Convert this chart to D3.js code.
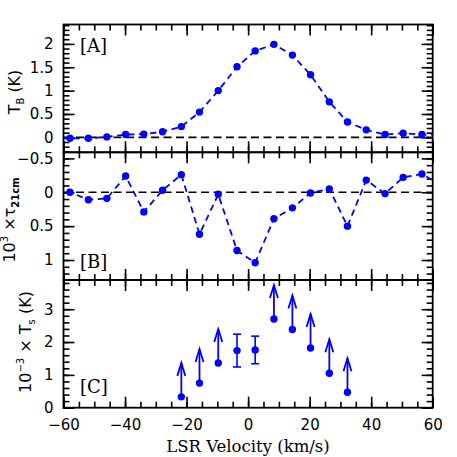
<!DOCTYPE html>
<html>
<head>
<meta charset="utf-8">
<script src="https://cdn.jsdelivr.net/npm/d3@7"></script>
<style>
  body { margin: 0; background: #fff; }
  svg { display: block; }
  .tick text { font-family: "DejaVu Sans", sans-serif; font-size: 15px; fill: #000; }
  .axis path { display: none; }
  .axis line { stroke: #000; stroke-width: 1.6; }
</style>
</head>
<body>
<div id="chart"></div>
<script>
// velocity channels (km/s), first and last fall just outside the plotted range
var velocity = [-64.0, -57.9, -51.9, -45.9, -39.8, -33.9, -27.8, -21.7, -15.8, -9.7, -3.6,
  2.3, 8.4, 14.4, 20.3, 26.4, 32.3, 38.4, 44.5, 50.4, 56.5, 62.5];
// panel A: brightness temperature (K)
var tb = [-0.02, -0.02, -0.02, 0.01, 0.06, 0.07, 0.12, 0.23, 0.54, 1.00, 1.51,
  1.85, 1.99, 1.76, 1.34, 0.76, 0.33, 0.16, 0.06, 0.09, 0.06, 0.06];
// panel B: 10^3 x optical depth
var tau = [-0.26, 0.00, 0.11, 0.09, -0.24, 0.29, -0.03, -0.26, 0.62, 0.03, 0.86,
  1.04, 0.39, 0.23, 0.01, -0.05, 0.50, -0.18, 0.02, -0.22, -0.27, -0.11];
// panel C: 10^-3 x spin temperature (K)
var tsVelocity = [-21.7, -15.8, -9.7, -3.6, 2.3, 8.4, 14.4, 20.3, 26.4, 32.3];
var ts = [0.33, 0.75, 1.36, 1.74, 1.76, 2.70, 2.38, 1.82, 1.05, 0.47];
var tsErr = [0, 0, 0, 0.50, 0.42, 0, 0, 0, 0, 0];
var tsLowerLimit = [true, true, true, false, false, true, true, true, true, true];

var xTicks = [-60, -40, -20, 0, 20, 40, 60];

var width = 457, height = 457;
var left = 63.5, right = 432.7;
var blue = "#0000ff";

var svg = d3.select("#chart").append("svg")
  .attr("width", width).attr("height", height);

var x = d3.scaleLinear().domain([-60, 60]).range([left, right]);

var panels = [
  { id: "A", top: 24.5, bottom: 152.3, domain: [-0.32, 2.415], major: 0.5, minor: 0.1, zero: true },
  { id: "B", top: 152.3, bottom: 280, domain: [1.295, -0.59], major: 0.5, minor: 0.1, zero: true },
  { id: "C", top: 280, bottom: 407.7, domain: [0, 3.89], major: 1, minor: 0.2, zero: false }
];

panels.forEach(function(p) {
  p.y = d3.scaleLinear().domain(p.domain).range([p.bottom, p.top]);
});

function ticksIn(lo, hi, step) {
  var a = Math.min(lo, hi), b = Math.max(lo, hi);
  var out = [];
  for (var v = Math.ceil(a / step - 1e-9) * step; v <= b + 1e-9; v += step) {
    out.push(Math.round(v * 1000) / 1000);
  }
  return out;
}

var fmt = function(d) { return d3.format("")(d).replace("-", "\u2212"); };

panels.forEach(function(p, i) {
  var g = svg.append("g").attr("class", "panel-" + p.id);
  var majorY = ticksIn(p.domain[0], p.domain[1], p.major);
  var minorY = ticksIn(p.domain[0], p.domain[1], p.minor);
  var minorX = ticksIn(-60, 60, 5);

  // y axes (ticks pointing in)
  g.append("g").attr("class", "axis").attr("transform", "translate(" + left + ",0)")
    .call(d3.axisLeft(p.y).tickValues(minorY).tickSize(-6).tickFormat(""));
  g.append("g").attr("class", "axis").attr("transform", "translate(" + left + ",0)")
    .call(d3.axisLeft(p.y).tickValues(majorY).tickSize(-11).tickPadding(10).tickFormat(fmt));
  g.append("g").attr("class", "axis").attr("transform", "translate(" + right + ",0)")
    .call(d3.axisRight(p.y).tickValues(minorY).tickSize(-6).tickFormat(""));
  g.append("g").attr("class", "axis").attr("transform", "translate(" + right + ",0)")
    .call(d3.axisRight(p.y).tickValues(majorY).tickSize(-11).tickFormat(""));

  // x axes top and bottom
  g.append("g").attr("class", "axis").attr("transform", "translate(0," + p.top + ")")
    .call(d3.axisTop(x).tickValues(minorX).tickSize(-6).tickFormat(""));
  g.append("g").attr("class", "axis").attr("transform", "translate(0," + p.top + ")")
    .call(d3.axisTop(x).tickValues(xTicks).tickSize(-11).tickFormat(""));
  g.append("g").attr("class", "axis").attr("transform", "translate(0," + p.bottom + ")")
    .call(d3.axisBottom(x).tickValues(minorX).tickSize(-6).tickFormat(""));
  g.append("g").attr("class", "axis").attr("transform", "translate(0," + p.bottom + ")")
    .call(d3.axisBottom(x).tickValues(xTicks).tickSize(-11).tickPadding(12)
      .tickFormat(i === panels.length - 1 ? fmt : ""));

  // frame
  g.append("rect")
    .attr("x", left).attr("y", p.top)
    .attr("width", right - left).attr("height", p.bottom - p.top)
    .attr("fill", "none").attr("stroke", "#000").attr("stroke-width", 1.8);

  // clip
  svg.append("clipPath").attr("id", "clip-" + p.id)
    .append("rect").attr("x", left).attr("y", p.top)
    .attr("width", right - left).attr("height", p.bottom - p.top);

  if (p.zero) {
    g.append("line")
      .attr("x1", left).attr("x2", right)
      .attr("y1", p.y(0)).attr("y2", p.y(0))
      .attr("stroke", "#000").attr("stroke-width", 1.6)
      .attr("stroke-dasharray", "8,4.5");
  }

  // panel tag
  g.append("text")
    .attr("x", 80).attr("y", p.id === "A" ? 52 : p.id === "B" ? 268 : 393)
    .attr("font-family", "DejaVu Serif, serif").attr("font-size", 18)
    .text("[" + p.id + "]");
});

// line + points for panels A and B
function profile(p, values) {
  var g = svg.append("g").attr("clip-path", "url(#clip-" + p.id + ")");
  var pts = velocity.map(function(v, i) { return [v, values[i]]; });
  g.append("path")
    .datum(pts)
    .attr("d", d3.line().x(function(d) { return x(d[0]); }).y(function(d) { return p.y(d[1]); }))
    .attr("fill", "none").attr("stroke", blue).attr("stroke-width", 1.8)
    .attr("stroke-dasharray", "6.5,4.5");
  g.selectAll("circle").data(pts.filter(function(d) { return d[0] > -60 && d[0] < 60; }))
    .enter().append("circle")
    .attr("cx", function(d) { return x(d[0]); })
    .attr("cy", function(d) { return p.y(d[1]); })
    .attr("r", 3.7).attr("fill", blue);
}
profile(panels[0], tb);
profile(panels[1], tau);

// panel C: spin temperature, lower limits as arrows
(function() {
  var p = panels[2];
  var g = svg.append("g");
  var arrowLen = 34, headLen = 13, headHalf = 4;
  tsVelocity.forEach(function(v, i) {
    var cx = x(v), cy = p.y(ts[i]);
    if (tsLowerLimit[i]) {
      var tip = cy - arrowLen;
      g.append("line").attr("x1", cx).attr("x2", cx).attr("y1", cy).attr("y2", tip)
        .attr("stroke", blue).attr("stroke-width", 1.8);
      g.append("path")
        .attr("d", "M" + (cx - headHalf) + "," + (tip + headLen) + "L" + cx + "," + tip +
          "L" + (cx + headHalf) + "," + (tip + headLen))
        .attr("fill", "none").attr("stroke", blue).attr("stroke-width", 1.8);
    } else {
      var y1 = p.y(ts[i] - tsErr[i]), y2 = p.y(ts[i] + tsErr[i]);
      g.append("line").attr("x1", cx).attr("x2", cx).attr("y1", y1).attr("y2", y2)
        .attr("stroke", blue).attr("stroke-width", 1.6);
      [y1, y2].forEach(function(yy) {
        g.append("line").attr("x1", cx - 4).attr("x2", cx + 4).attr("y1", yy).attr("y2", yy)
          .attr("stroke", blue).attr("stroke-width", 1.6);
      });
    }
    g.append("circle").attr("cx", cx).attr("cy", cy).attr("r", 3.7).attr("fill", blue);
  });
})();

// axis titles
var sans = "DejaVu Sans, sans-serif";
var tA = svg.append("text").attr("transform", "translate(20,92) rotate(-90)")
  .attr("text-anchor", "middle").attr("font-family", sans).attr("font-size", 16);
tA.append("tspan").text("T");
tA.append("tspan").attr("font-size", 10).attr("dy", 4).text("B");
tA.append("tspan").attr("dy", -4).text(" (K)");

var tB = svg.append("text").attr("transform", "translate(15,220) rotate(-90)")
  .attr("text-anchor", "middle").attr("font-family", sans).attr("font-size", 16);
tB.append("tspan").text("10");
tB.append("tspan").attr("font-size", 10).attr("dy", -7).text("3");
tB.append("tspan").attr("dy", 7).text(" \u00d7\u03c4");
tB.append("tspan").attr("font-size", 10).attr("font-weight", "bold").attr("dy", 4).text("21cm");

var tC = svg.append("text").attr("transform", "translate(31,342) rotate(-90)")
  .attr("text-anchor", "middle").attr("font-family", sans).attr("font-size", 16);
tC.append("tspan").text("10");
tC.append("tspan").attr("font-size", 10).attr("dy", -7).text("\u22123");
tC.append("tspan").attr("dy", 7).text(" \u00d7 T");
tC.append("tspan").attr("font-size", 10).attr("dy", 4).text("s");
tC.append("tspan").attr("dy", -4).text(" (K)");

svg.append("text")
  .attr("x", 248).attr("y", 452)
  .attr("text-anchor", "middle")
  .attr("font-family", "DejaVu Serif, serif").attr("font-size", 16.5)
  .text("LSR Velocity (km/s)");
</script>
</body>
</html>
